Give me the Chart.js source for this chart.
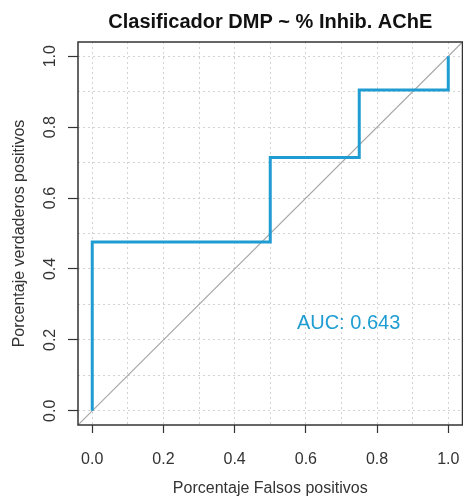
<!DOCTYPE html>
<html>
<head>
<meta charset="utf-8">
<script src="https://cdn.jsdelivr.net/npm/chart.js@4/dist/chart.umd.min.js"></script>
<style>
  html, body { margin: 0; padding: 0; background: #fff; }
  #wrap { width: 463px; height: 502px; }
</style>
</head>
<body>
<div id="wrap"><canvas id="chart-roc" width="463" height="502"></canvas></div>
<script>
// ROC curve corners (false positive rate, true positive rate)
const FPR = [0, 0, 0.5, 0.5, 0.75, 0.75, 1, 1];
const TPR = [0, 0.476, 0.476, 0.714, 0.714, 0.905, 0.905, 1];

// chance diagonal, spans the whole plot region like abline()
const DIAG = [-0.04, 1.04];

const TICKS = [0, 0.1, 0.2, 0.3, 0.4, 0.5, 0.6, 0.7, 0.8, 0.9, 1.0];
const AXIS_MIN = -0.04;
const AXIS_MAX = 1.04;

const AUC = 0.643;
const TITLE = "Clasificador DMP ~ % Inhib. AChE";
const X_TITLE = "Porcentaje Falsos positivos";
const Y_TITLE = "Porcentaje verdaderos positivos";

(function () {
  const FONT = "'Liberation Sans', Arial, sans-serif";
  const BLUE = "#1f9dd2";
  const INK = "#333";

  const isMajor = (v) => Math.round(v * 10) % 2 === 0;

  // frame around the plot region + the AUC note
  const frame = {
    id: "frame",
    afterDatasetsDraw(chart) {
      const { ctx, chartArea: a, scales } = chart;
      ctx.save();
      ctx.strokeStyle = INK;
      ctx.lineWidth = 1.5;
      ctx.strokeRect(a.left, a.top, a.right - a.left, a.bottom - a.top);
      ctx.fillStyle = BLUE;
      ctx.font = "20px " + FONT;
      ctx.textAlign = "center";
      ctx.textBaseline = "middle";
      ctx.fillText("AUC: " + AUC.toFixed(3),
        scales.x.getPixelForValue(0.72), scales.y.getPixelForValue(0.247));
      ctx.restore();
    },
  };

  function axis(isX) {
    return {
      type: "linear",
      min: AXIS_MIN,
      max: AXIS_MAX,
      afterBuildTicks: (s) => { s.ticks = TICKS.map((v) => ({ value: v })); },
      afterFit: (s) => {
        // fixed axis band sizes, and no extra room for the end labels
        if (isX) s.height = 77; else s.width = 78;
        s.paddingLeft = s.paddingRight = s.paddingTop = s.paddingBottom = 0;
      },
      grid: {
        color: "#d3d3d3",
        lineWidth: 1,
        drawTicks: true,
        tickLength: isX ? 8 : 10,
        tickWidth: 1.2,
        tickColor: (c) => (c.tick && isMajor(c.tick.value) ? INK : "rgba(0,0,0,0)"),
      },
      border: { display: false, dash: [2, 3] },
      ticks: {
        autoSkip: false,
        color: INK,
        font: { family: FONT, size: 16 },
        padding: isX ? 17 : 6,
        minRotation: isX ? 0 : 90,
        maxRotation: isX ? 0 : 90,
        crossAlign: isX ? "near" : "center",
        callback: (v) => (isMajor(v) ? Number(v).toFixed(1) : ""),
      },
      title: {
        display: true,
        text: isX ? X_TITLE : Y_TITLE,
        color: INK,
        font: { family: FONT, size: 16 },
        padding: isX ? { top: 0, bottom: 4 } : { top: 10, bottom: 0 },
      },
    };
  }

  new Chart(document.getElementById("chart-roc"), {
    type: "scatter",
    data: {
      datasets: [
        {
          label: "ROC",
          data: FPR.map((x, i) => ({ x, y: TPR[i] })),
          showLine: true,
          borderColor: BLUE,
          borderWidth: 3,
          pointRadius: 0,
          tension: 0,
        },
        {
          label: "diagonal",
          data: DIAG.map((v) => ({ x: v, y: v })),
          showLine: true,
          borderColor: "#a8a8a8",
          borderWidth: 1.2,
          pointRadius: 0,
        },
      ],
    },
    options: {
      responsive: false,
      animation: false,
      layout: { padding: { left: 0, right: 0.5, top: 0, bottom: 0 } },
      plugins: {
        legend: { display: false },
        tooltip: { enabled: false },
        title: {
          display: true,
          text: TITLE,
          fullSize: false,
          color: "#111",
          font: { family: FONT, size: 20, weight: "bold" },
          padding: { top: 10, bottom: 8 },
        },
      },
      scales: { x: axis(true), y: axis(false) },
    },
    plugins: [frame],
  });
})();
</script>
</body>
</html>
